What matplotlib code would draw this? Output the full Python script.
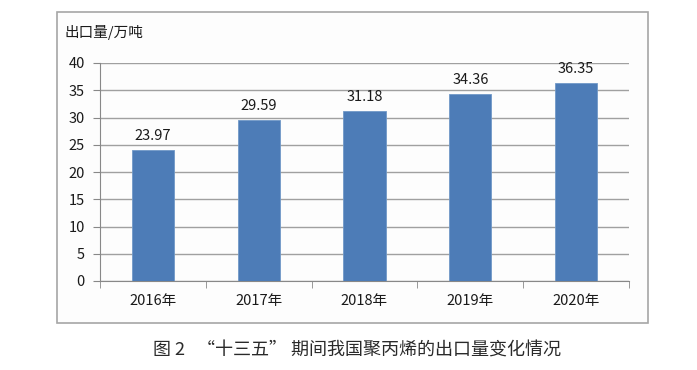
import matplotlib.pyplot as plt
from matplotlib.patches import Rectangle

plt.rcParams['font.family'] = ['Noto Sans CJK SC', 'DejaVu Sans']

# данные
years = ['2016年', '2017年', '2018年', '2019年', '2020年']
exports = [23.97, 29.59, 31.18, 34.36, 36.35]
y_ticks = [0, 5, 10, 15, 20, 25, 30, 35, 40]

fig = plt.figure(figsize=(6.97, 3.70), dpi=100)

# рамка вокруг графика
box = Rectangle((57 / 697, 1 - 323 / 370), 591 / 697, 311 / 370,
                transform=fig.transFigure, facecolor='#fdfdfd',
                edgecolor='#a6a6a6', linewidth=1.2, zorder=-5)
fig.patches.append(box)

ax = fig.add_axes([100 / 697, 1 - 281 / 370, 529 / 697, 218 / 370])
ax.set_facecolor('none')

x = range(len(years))
bars = ax.bar(x, exports, width=0.4, color='#4d7cb7', edgecolor='#7199c8',
              linewidth=0.6, zorder=3)

for xi, v in zip(x, exports):
    ax.annotate(f'{v:.2f}', (xi, v), xytext=(0, 5), textcoords='offset points',
                ha='center', va='bottom', fontsize=10.5, color='#1a1a1a')

ax.set_xlim(-0.5, 4.5)
ax.set_ylim(0, 40)
ax.set_yticks(y_ticks)
ax.set_yticklabels([str(t) for t in y_ticks], fontsize=10.5, color='#1a1a1a')
ax.set_xticks(list(x))
ax.set_xticklabels(years, fontsize=10.5, color='#1a1a1a')
ax.tick_params(axis='x', length=0, pad=9)
ax.set_xticks([i - 0.5 for i in range(len(years) + 1)], minor=True)
ax.tick_params(axis='x', which='minor', length=5, color='#888888', direction='out')
ax.tick_params(axis='y', length=5, color='#888888', pad=6)

ax.grid(axis='y', color='#a0a0a0', linewidth=1.0, zorder=0)
for s in ['top', 'right']:
    ax.spines[s].set_visible(False)
ax.spines['left'].set_color('#888888')
ax.spines['bottom'].set_color('#888888')

fig.text(65 / 697, 1 - 33 / 370, '出口量/万吨', fontsize=10.5, color='#1a1a1a',
         ha='left', va='center')

fig.text(357 / 697, 1 - 351 / 370, '图 2   “十三五” 期间我国聚丙烯的出口量变化情况',
         fontsize=13, color='#2a2a2a', ha='center', va='center', fontweight='medium')

fig.savefig('out.png', dpi=100)
